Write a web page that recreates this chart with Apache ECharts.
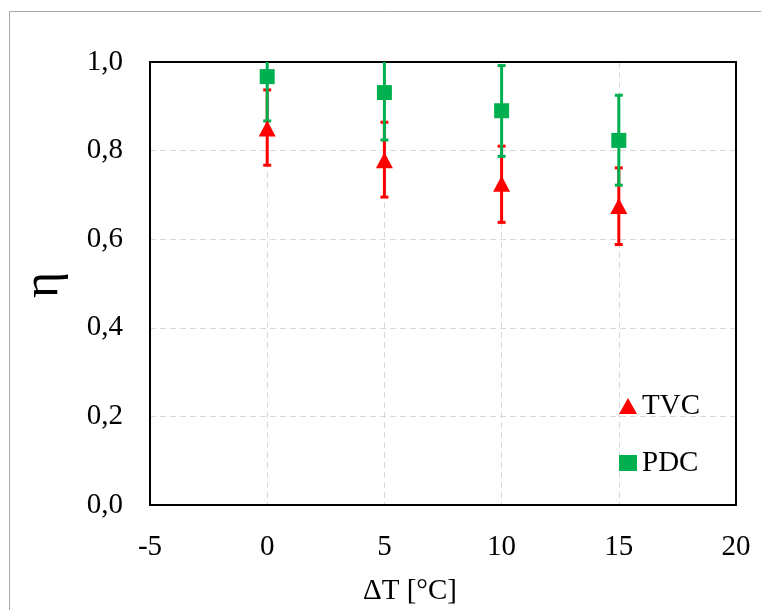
<!DOCTYPE html>
<html>
<head>
<meta charset="utf-8">
<script src="https://cdn.jsdelivr.net/npm/echarts@6/dist/echarts.min.js"></script>
<style>html,body{margin:0;padding:0;background:#fff}#c{width:761px;height:610px}</style>
</head>
<body>
<div id="c"></div>
<script>
var xValues = [0, 5, 10, 15];
var tvc = [0.85, 0.778, 0.725, 0.675];
var tvcLow = [0.767, 0.695, 0.638, 0.588];
var tvcHigh = [0.937, 0.864, 0.81, 0.761];
var pdc = [0.967, 0.931, 0.89, 0.823];
var pdcLow = [0.867, 0.824, 0.787, 0.722];
var pdcHigh = [1.067, 1.038, 0.992, 0.925];
var xTicks = [-5, 0, 5, 10, 15, 20];
var yTicks = ['0,0', '0,2', '0,4', '0,6', '0,8', '1,0'];

var FONT = 'Liberation Serif';
var RED = '#FF0000', GREEN = '#00B050';

function errData(low, high) {
  return xValues.map(function (x, i) { return [x, low[i], high[i]]; });
}
function errRender(color) {
  return function (params, api) {
    var x = api.value(0);
    var lo = api.coord([x, api.value(1)]);
    var hi = api.coord([x, api.value(2)]);
    var hw = 4;
    var st = { stroke: color, lineWidth: 3 };
    return {
      type: 'group',
      children: [
        { type: 'line', shape: { x1: lo[0], y1: lo[1], x2: hi[0], y2: hi[1] }, style: st },
        { type: 'line', shape: { x1: lo[0] - hw, y1: lo[1], x2: lo[0] + hw, y2: lo[1] }, style: st },
        { type: 'line', shape: { x1: hi[0] - hw, y1: hi[1], x2: hi[0] + hw, y2: hi[1] }, style: st }
      ]
    };
  };
}

var gridSplit = { show: true, showMinLine: false, showMaxLine: false, lineStyle: { color: '#d9d9d9', type: [6, 4], width: 1 } };
var frameLine = { show: true, onZero: false, lineStyle: { color: '#000', width: 2 } };

var chart = echarts.init(document.getElementById('c'));
chart.setOption({
  animation: false,
  backgroundColor: '#fff',
  grid: { left: 150, top: 62, right: 25, bottom: 105, show: false },
  graphic: [
    { type: 'rect', shape: { x: 9.5, y: 11.5, width: 800, height: 700 }, style: { fill: 'none', stroke: '#a6a6a6', lineWidth: 1 }, z: -1 },
    { type: 'text', x: 410, y: 591, style: { text: 'ΔT [°C]', font: '29px "Liberation Serif"', fill: '#000', textAlign: 'center', textVerticalAlign: 'middle' } },
    { type: 'text', x: 44, y: 285, rotation: Math.PI / 2, style: { text: 'η', font: '50px "Liberation Serif"', fill: '#000', textAlign: 'center', textVerticalAlign: 'middle' } }
  ],
  legend: {
    orient: 'vertical',
    left: 614,
    top: 386,
    itemWidth: 18,
    itemHeight: 16,
    itemGap: 27,
    textStyle: { fontFamily: FONT, fontSize: 29, color: '#000', lineHeight: 30 },
    data: [
      { name: 'TVC', icon: 'triangle', itemStyle: { color: RED, opacity: 1 } },
      { name: 'PDC', icon: 'rect', itemStyle: { color: GREEN, opacity: 1 } }
    ]
  },
  xAxis: [{
    type: 'value', min: -5, max: 20, interval: 5, position: 'bottom',
    axisLine: frameLine,
    axisTick: { show: false },
    axisLabel: { fontFamily: FONT, fontSize: 29, color: '#000', margin: 28, formatter: function (v) { return String(v); } },
    splitLine: gridSplit
  }, {
    type: 'value', min: -5, max: 20, interval: 5, position: 'top',
    axisLine: frameLine, axisTick: { show: false }, axisLabel: { show: false }, splitLine: { show: false }
  }],
  yAxis: [{
    type: 'value', min: 0, max: 1, interval: 0.2, position: 'left',
    axisLine: frameLine,
    axisTick: { show: false },
    axisLabel: { fontFamily: FONT, fontSize: 29, color: '#000', margin: 27,
      formatter: function (v) { return yTicks[Math.round(v / 0.2)]; } },
    splitLine: gridSplit
  }, {
    type: 'value', min: 0, max: 1, interval: 0.2, position: 'right',
    axisLine: frameLine, axisTick: { show: false }, axisLabel: { show: false }, splitLine: { show: false }
  }],
  series: [
    { type: 'custom', name: 'tvcErr', renderItem: errRender(RED), data: errData(tvcLow, tvcHigh), clip: true, z: 2, silent: true },
    { type: 'custom', name: 'pdcErr', renderItem: errRender(GREEN), data: errData(pdcLow, pdcHigh), clip: true, z: 3, silent: true },
    { type: 'scatter', name: 'PDC', symbol: 'rect', symbolSize: 15, itemStyle: { color: GREEN, opacity: 1 },
      data: xValues.map(function (x, i) { return [x, pdc[i]]; }), z: 4 },
    { type: 'scatter', name: 'TVC', symbol: 'triangle', symbolSize: [17, 16], itemStyle: { color: RED, opacity: 1 },
      data: xValues.map(function (x, i) { return [x, tvc[i]]; }), z: 5 }
  ]
});
</script>
</body>
</html>
